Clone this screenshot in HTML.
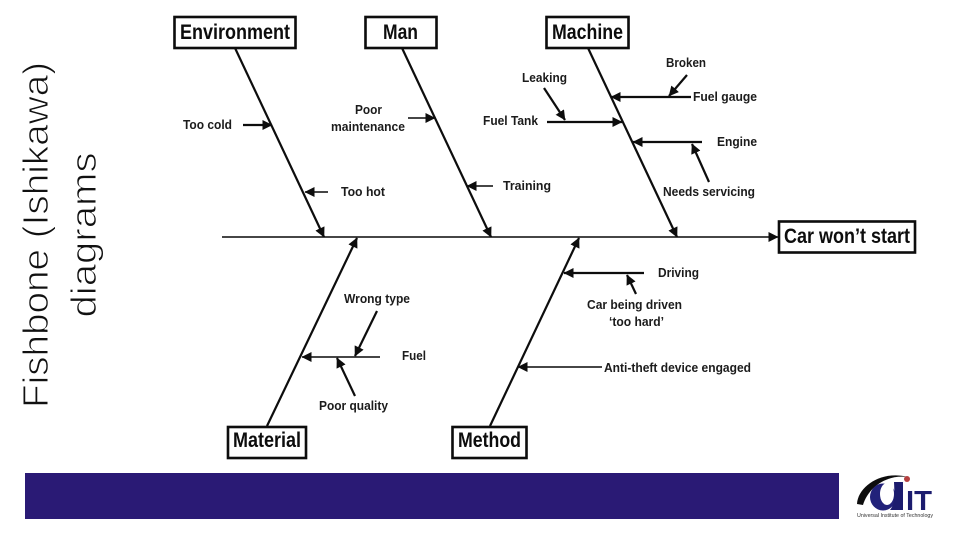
<!DOCTYPE html>
<html>
<head>
<meta charset="utf-8">
<style>
html,body{margin:0;padding:0;background:#fff;width:960px;height:540px;overflow:hidden}
svg{display:block}
.l{font:bold 12.5px "Liberation Sans",sans-serif;fill:#1a1a1a}
.b{font:bold 21px "Liberation Sans",sans-serif;fill:#0a0a0a}
.t{font:36px "Liberation Sans",sans-serif;fill:#111;stroke:#fff;stroke-width:1}
.box{fill:#fff;stroke:#0a0a0a;stroke-width:2.6}
.n{stroke:#0a0a0a;stroke-width:1.5;fill:none}
.m{stroke:#0a0a0a;stroke-width:2.2;fill:none}
</style>
</head>
<body>
<svg width="960" height="540" viewBox="0 0 960 540" xmlns="http://www.w3.org/2000/svg">
<defs>
<marker id="a" viewBox="0 0 10 10" refX="9.5" refY="5" markerUnits="userSpaceOnUse" markerWidth="10" markerHeight="10" orient="auto"><path d="M0 0L10 5L0 10Z" fill="#0a0a0a"/></marker>
<filter id="s" x="-5%" y="-5%" width="110%" height="110%"><feGaussianBlur stdDeviation="0.35"/></filter>
</defs>
<rect width="960" height="540" fill="#fff"/>

<g transform="translate(37,235) rotate(-90)"><text class="t" text-anchor="middle" y="11" textLength="346" lengthAdjust="spacingAndGlyphs">Fishbone (Ishikawa)</text></g>
<g transform="translate(87,235) rotate(-90)"><text class="t" text-anchor="middle" y="9" textLength="165" lengthAdjust="spacingAndGlyphs">diagrams</text></g>

<g filter="url(#s)">
<line class="n" x1="222" y1="237" x2="778" y2="237" marker-end="url(#a)"/>

<line class="m" x1="235" y1="48" x2="324" y2="237" marker-end="url(#a)"/>
<line class="m" x1="402" y1="48" x2="491" y2="237" marker-end="url(#a)"/>
<line class="m" x1="588" y1="48" x2="677" y2="237" marker-end="url(#a)"/>
<line class="m" x1="267" y1="426" x2="357" y2="238" marker-end="url(#a)"/>
<line class="m" x1="490" y1="426" x2="579" y2="238" marker-end="url(#a)"/>

<line class="m" x1="243" y1="125" x2="272" y2="125" marker-end="url(#a)"/>
<line class="n" x1="408" y1="118" x2="435" y2="118" marker-end="url(#a)"/>
<line class="n" x1="328" y1="192" x2="305" y2="192" marker-end="url(#a)"/>
<line class="n" x1="493" y1="186" x2="467" y2="186" marker-end="url(#a)"/>
<line class="m" x1="691" y1="97" x2="611" y2="97" marker-end="url(#a)"/>
<line class="m" x1="687" y1="75" x2="669" y2="96" marker-end="url(#a)"/>
<line class="m" x1="544" y1="88" x2="565" y2="120" marker-end="url(#a)"/>
<line class="m" x1="547" y1="122" x2="622" y2="122" marker-end="url(#a)"/>
<line class="m" x1="702" y1="142" x2="633" y2="142" marker-end="url(#a)"/>
<line class="m" x1="709" y1="182" x2="692" y2="144" marker-end="url(#a)"/>
<line class="m" x1="644" y1="273" x2="564" y2="273" marker-end="url(#a)"/>
<line class="m" x1="636" y1="294" x2="627" y2="275" marker-end="url(#a)"/>
<line class="n" x1="602" y1="367" x2="518" y2="367" marker-end="url(#a)"/>
<line class="n" x1="380" y1="357" x2="302" y2="357" marker-end="url(#a)"/>
<line class="m" x1="377" y1="311" x2="355" y2="356" marker-end="url(#a)"/>
<line class="m" x1="355" y1="396" x2="337" y2="358" marker-end="url(#a)"/>

<rect class="box" x="174.5" y="17" width="121" height="31"/>
<rect class="box" x="365.5" y="17" width="71" height="31"/>
<rect class="box" x="546.5" y="17" width="82" height="31"/>
<rect class="box" x="779" y="221.5" width="136" height="31"/>
<rect class="box" x="228" y="427" width="78" height="31"/>
<rect class="box" x="452.5" y="427" width="74" height="31"/>

<text class="b" x="180" y="39" textLength="110" lengthAdjust="spacingAndGlyphs">Environment</text>
<text class="b" x="383" y="39" textLength="35" lengthAdjust="spacingAndGlyphs">Man</text>
<text class="b" x="552" y="39" textLength="71" lengthAdjust="spacingAndGlyphs">Machine</text>
<text class="b" x="784" y="243" textLength="126" lengthAdjust="spacingAndGlyphs">Car won’t start</text>
<text class="b" x="233" y="447" textLength="68" lengthAdjust="spacingAndGlyphs">Material</text>
<text class="b" x="458" y="447" textLength="63" lengthAdjust="spacingAndGlyphs">Method</text>

<text class="l" x="183" y="129" textLength="49" lengthAdjust="spacingAndGlyphs">Too cold</text>
<text class="l" x="355" y="114" textLength="27" lengthAdjust="spacingAndGlyphs">Poor</text>
<text class="l" x="331" y="131" textLength="74" lengthAdjust="spacingAndGlyphs">maintenance</text>
<text class="l" x="341" y="196" textLength="44" lengthAdjust="spacingAndGlyphs">Too hot</text>
<text class="l" x="503" y="190" textLength="48" lengthAdjust="spacingAndGlyphs">Training</text>
<text class="l" x="666" y="67" textLength="40" lengthAdjust="spacingAndGlyphs">Broken</text>
<text class="l" x="522" y="82" textLength="45" lengthAdjust="spacingAndGlyphs">Leaking</text>
<text class="l" x="483" y="125" textLength="55" lengthAdjust="spacingAndGlyphs">Fuel Tank</text>
<text class="l" x="693" y="101" textLength="64" lengthAdjust="spacingAndGlyphs">Fuel gauge</text>
<text class="l" x="717" y="146" textLength="40" lengthAdjust="spacingAndGlyphs">Engine</text>
<text class="l" x="663" y="196" textLength="92" lengthAdjust="spacingAndGlyphs">Needs servicing</text>
<text class="l" x="658" y="277" textLength="41" lengthAdjust="spacingAndGlyphs">Driving</text>
<text class="l" x="587" y="309" textLength="95" lengthAdjust="spacingAndGlyphs">Car being driven</text>
<text class="l" x="609" y="326" textLength="55" lengthAdjust="spacingAndGlyphs">‘too hard’</text>
<text class="l" x="604" y="372" textLength="147" lengthAdjust="spacingAndGlyphs">Anti-theft device engaged</text>
<text class="l" x="344" y="303" textLength="66" lengthAdjust="spacingAndGlyphs">Wrong type</text>
<text class="l" x="402" y="360" textLength="24" lengthAdjust="spacingAndGlyphs">Fuel</text>
<text class="l" x="319" y="410" textLength="69" lengthAdjust="spacingAndGlyphs">Poor quality</text>
</g>

<rect x="25" y="473" width="814" height="46" fill="#2a1a75"/>

<!-- logo -->
<g filter="url(#s)">
<path d="M857 504C858 486 882 470 908 477C886 474 868 488 863 505Z" fill="#111"/>
<ellipse cx="883" cy="497" rx="13" ry="13.5" fill="#22207a"/>
<ellipse cx="887" cy="494" rx="7" ry="11" fill="#fff"/>
<path d="M894 482H903V510H890C894 505 895 500 894 482Z" fill="#1f1a6e"/>
<circle cx="907" cy="479" r="3" fill="#b5403f"/>
<text x="906" y="510" font-family="Liberation Sans,sans-serif" font-weight="bold" font-size="28" fill="#1f1a6e" textLength="26" lengthAdjust="spacingAndGlyphs">IT</text>
<text x="857" y="517" font-family="Liberation Sans,sans-serif" font-size="5" fill="#333" textLength="76" lengthAdjust="spacingAndGlyphs">Universal Institute of Technology</text>
</g>
</svg>
</body>
</html>
